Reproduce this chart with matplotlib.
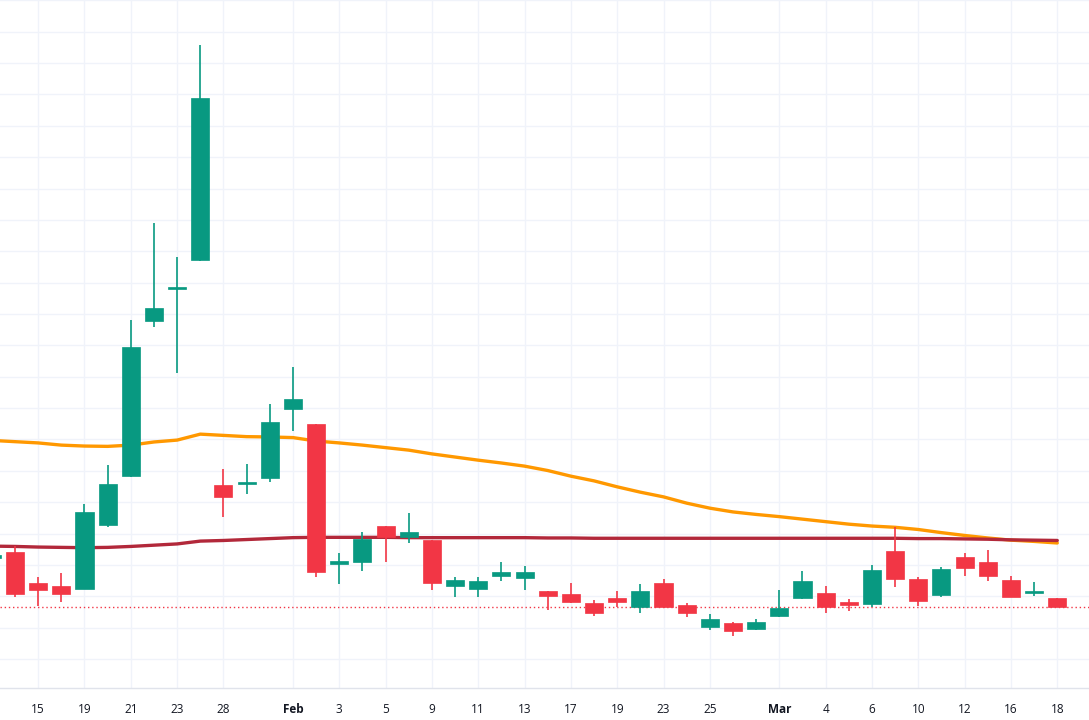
import numpy as np
import matplotlib.pyplot as plt

# daily candles, first one is cut off by the left edge
opens = [4.22, 4.40, 3.41, 3.33, 3.23, 5.26, 6.83, 11.79, 12.80, 13.72,
         6.55, 6.57, 6.78, 8.98, 8.48, 4.04, 4.10, 5.24, 4.88, 4.79,
         3.34, 3.22, 3.66, 3.58, 3.17, 3.06, 2.78, 2.94, 2.65, 3.41,
         2.72, 2.01, 2.16, 1.95, 2.37, 2.94, 3.11, 2.81, 2.75, 4.43,
         3.55, 3.05, 4.26, 4.08, 3.52, 3.10, 2.94]
highs = [4.48, 4.60, 3.62, 3.73, 5.94, 7.19, 11.81, 14.91, 13.83, 20.57,
         7.06, 7.21, 9.14, 10.30, 8.50, 4.39, 5.04, 5.25, 5.66, 4.80,
         3.62, 3.61, 4.10, 3.97, 3.18, 3.43, 2.88, 3.17, 3.39, 3.54,
         2.78, 2.43, 2.19, 2.28, 3.20, 3.81, 3.33, 2.91, 4.00, 5.22,
         3.62, 3.94, 4.37, 4.47, 3.65, 3.45, 2.94]
lows = [4.09, 2.99, 2.70, 2.81, 3.22, 5.22, 6.80, 11.59, 10.11, 13.70,
        5.52, 6.25, 6.64, 8.27, 3.62, 3.39, 3.82, 4.09, 4.69, 3.20,
        2.99, 2.97, 3.50, 3.20, 2.56, 2.78, 2.37, 2.67, 2.48, 2.64,
        2.35, 1.94, 1.73, 1.93, 2.33, 2.93, 2.48, 2.54, 2.67, 3.31,
        2.70, 2.99, 3.65, 3.50, 2.97, 3.01, 2.65]
closes = [4.32, 3.08, 3.20, 3.06, 5.70, 6.58, 10.96, 12.18, 12.81, 18.89,
          6.17, 6.63, 8.56, 9.28, 3.78, 4.13, 4.82, 4.88, 5.06, 3.41,
          3.51, 3.50, 3.78, 3.77, 3.00, 2.81, 2.48, 2.83, 3.17, 2.65,
          2.46, 2.28, 1.90, 2.18, 2.64, 3.50, 2.65, 2.73, 3.83, 3.55,
          2.85, 3.86, 3.91, 3.65, 2.99, 3.11, 2.65]

ma_fast = [7.97, 7.93, 7.89, 7.82, 7.79, 7.78, 7.82, 7.92, 7.98, 8.17,
           8.13, 8.09, 8.08, 8.06, 7.95, 7.89, 7.82, 7.74, 7.66, 7.54,
           7.44, 7.34, 7.25, 7.15, 7.01, 6.83, 6.68, 6.49, 6.32, 6.17,
           5.97, 5.81, 5.69, 5.61, 5.54, 5.46, 5.38, 5.30, 5.24, 5.20,
           5.13, 5.03, 4.94, 4.86, 4.79, 4.75, 4.70]
ma_slow = [4.60, 4.59, 4.57, 4.56, 4.55, 4.56, 4.59, 4.63, 4.67, 4.76,
           4.78, 4.81, 4.84, 4.87, 4.88, 4.88, 4.88, 4.88, 4.87, 4.87,
           4.87, 4.87, 4.87, 4.87, 4.86, 4.86, 4.85, 4.85, 4.85, 4.85,
           4.85, 4.85, 4.85, 4.85, 4.85, 4.85, 4.85, 4.85, 4.85, 4.85,
           4.84, 4.84, 4.83, 4.82, 4.80, 4.79, 4.78]

# candle index (0 = first fully visible candle) where each date label sits
tick_index = [1, 3, 5, 7, 9, 12, 14, 16, 18, 20, 22,
              24, 26, 28, 30, 33, 35, 37, 39, 41, 43, 45]
tick_labels = ['15', '19', '21', '23', '28', 'Feb', '3', '5', '9', '11', '13',
               '17', '19', '23', '25', 'Mar', '4', '6', '10', '12', '16', '18']

up_color = '#089981'
down_color = '#F23645'

o = np.array(opens)
h = np.array(highs)
l = np.array(lows)
c = np.array(closes)
x = np.arange(len(o)) - 1  # first candle sits left of the visible area
up = c >= o
colors = np.where(up, up_color, down_color)

fig = plt.figure(figsize=(10.89, 7.2), dpi=100)
ax = fig.add_axes([0, 32 / 720, 1, 688 / 720])

# grid
for yv in range(0, 23):
    ax.axhline(yv, color='#F0F3FA', lw=1, zorder=0)
for xv in tick_index:
    ax.axvline(xv, color='#F0F3FA', lw=1, zorder=0)

# moving averages
ax.plot(x, ma_fast, color='#FF9800', lw=2.4, zorder=2, solid_capstyle='round')
ax.plot(x, ma_slow, color='#B2283A', lw=2.4, zorder=2, solid_capstyle='round')

# wicks and bodies
ax.vlines(x, l, h, colors=colors, lw=1.2, zorder=3)
body_bottom = np.minimum(o, c)
body_height = np.maximum(np.abs(c - o), 0.06)
ax.bar(x, body_height, bottom=body_bottom, width=0.78, color=colors,
       edgecolor=colors, linewidth=0.5, zorder=4)

# last price line
ax.axhline(c[-1], color=down_color, lw=1, ls=(0, (1, 2)), zorder=1)

ax.set_xlim(-0.648, 46.37)
ax.set_ylim(0.077, 22.01)
ax.set_yticks([])
ax.set_xticks(tick_index)
ax.set_xticklabels(tick_labels, fontsize=8.5, color='#131722', family='Open Sans')
for lbl in ax.get_xticklabels():
    if lbl.get_text() in ('Feb', 'Mar'):
        lbl.set_fontweight('bold')
ax.tick_params(axis='x', length=0, pad=11)
for side in ('top', 'left', 'right'):
    ax.spines[side].set_visible(False)
ax.spines['bottom'].set_color('#E0E3EB')
ax.spines['bottom'].set_linewidth(1)

plt.savefig('out.png', dpi=100)
